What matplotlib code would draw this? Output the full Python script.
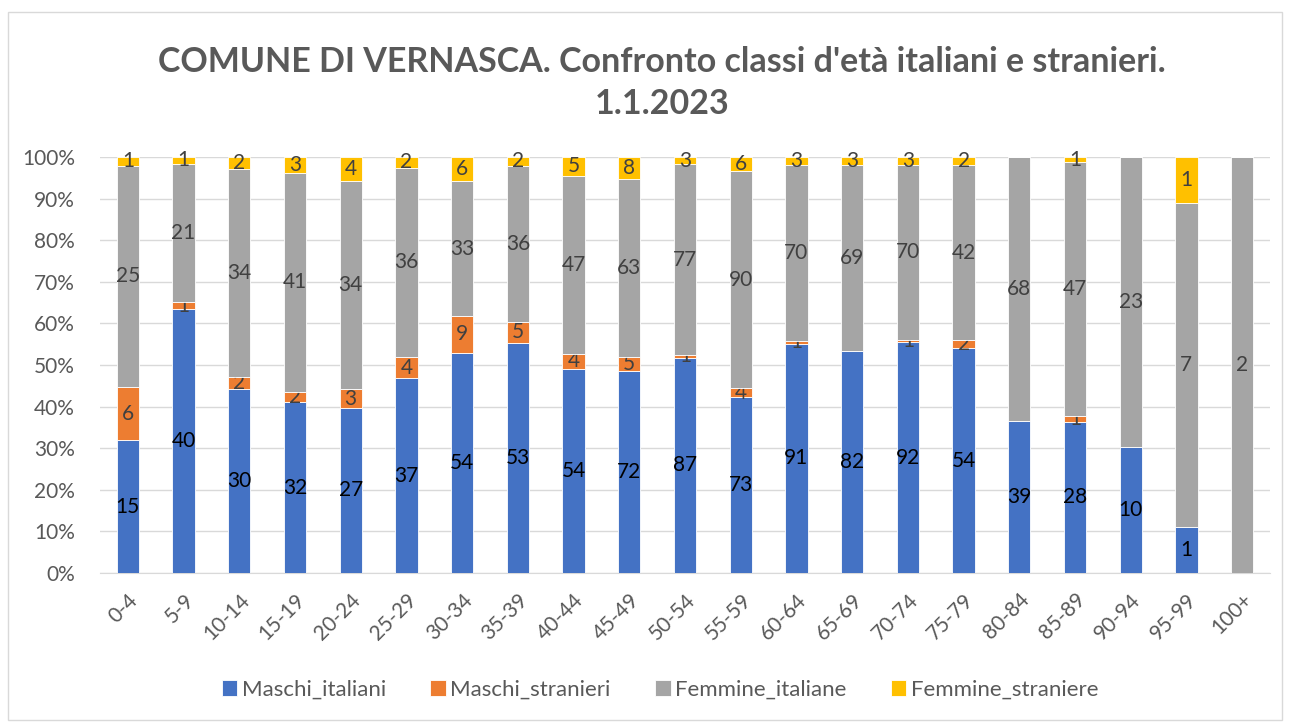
import numpy as np
import matplotlib.pyplot as plt
from matplotlib.patches import Rectangle
from matplotlib.ticker import PercentFormatter

plt.rcParams['font.family'] = ['Lato', 'DejaVu Sans']

# Dati: classi d'eta e popolazione per gruppo
classi = ['0-4', '5-9', '10-14', '15-19', '20-24', '25-29', '30-34', '35-39',
          '40-44', '45-49', '50-54', '55-59', '60-64', '65-69', '70-74',
          '75-79', '80-84', '85-89', '90-94', '95-99', '100+']
maschi_italiani = [15, 40, 30, 32, 27, 37, 54, 53, 54, 72, 87, 73, 91, 82, 92, 54, 39, 28, 10, 1, 0]
maschi_stranieri = [6, 1, 2, 2, 3, 4, 9, 5, 4, 5, 1, 4, 1, 0, 1, 2, 0, 1, 0, 0, 0]
femmine_italiane = [25, 21, 34, 41, 34, 36, 33, 36, 47, 63, 77, 90, 70, 69, 70, 42, 68, 47, 23, 7, 2]
femmine_straniere = [1, 1, 2, 3, 4, 2, 6, 2, 5, 8, 3, 6, 3, 3, 3, 2, 0, 1, 0, 1, 0]

serie = [
    ('Maschi_italiani', maschi_italiani, '#4472C4', 'black'),
    ('Maschi_stranieri', maschi_stranieri, '#ED7D31', '#404040'),
    ('Femmine_italiane', femmine_italiane, '#A5A5A5', '#404040'),
    ('Femmine_straniere', femmine_straniere, '#FFC000', '#404040'),
]

tot = np.sum([s[1] for s in serie], axis=0)
x = np.arange(len(classi))

fig = plt.figure(figsize=(12.9, 7.24), dpi=100)
ax = fig.add_axes([100/1290, 1-573/724, 1170/1290, 416/724])

bottom = np.zeros(len(classi))
for nome, vals, col, tcol in serie:
    vals = np.array(vals)
    perc = vals / tot * 100
    bars = ax.bar(x, perc, 0.4, bottom=bottom, color=col, label=nome,
                  edgecolor='white', linewidth=0.6, zorder=3)
    labels = [str(v) if v > 0 else '' for v in vals]
    ax.bar_label(bars, labels=labels, label_type='center', color=tcol, fontsize=15)
    bottom += perc

ax.set_xlim(-0.5, len(classi) - 0.5)
ax.set_ylim(0, 100)
ax.set_yticks(np.arange(0, 101, 10))
ax.yaxis.set_major_formatter(PercentFormatter(decimals=0))
ax.set_xticks(x)
ax.set_xticklabels(classi, rotation=45, ha='right', rotation_mode='anchor')
ax.tick_params(axis='both', length=0, labelsize=15, colors='#595959')
ax.tick_params(axis='y', pad=18)
ax.tick_params(axis='x', pad=12)
ax.grid(axis='y', color='#D9D9D9', linewidth=1, zorder=0)
for s in ['top', 'right', 'left']:
    ax.spines[s].set_visible(False)
ax.spines['bottom'].set_color('#D9D9D9')

fig.suptitle("COMUNE DI VERNASCA. Confronto classi d'età italiani e stranieri.\n1.1.2023",
             x=662/1290, y=1-46/724, fontsize=24.5, fontweight='bold', color='#595959',
             linespacing=1.38)

fig.legend(loc='center', bbox_to_anchor=(660/1290, 1-690/724), ncol=4, frameon=False,
           fontsize=16, labelcolor='#595959', handlelength=0.7, handleheight=0.7,
           columnspacing=2.0, handletextpad=0.2)

fig.patches.append(Rectangle((8/1290, 4/724), 1274/1290, 708/724, transform=fig.transFigure,
                             fill=False, edgecolor='#D9D9D9', linewidth=1))

fig.savefig('out.png', dpi=100)
